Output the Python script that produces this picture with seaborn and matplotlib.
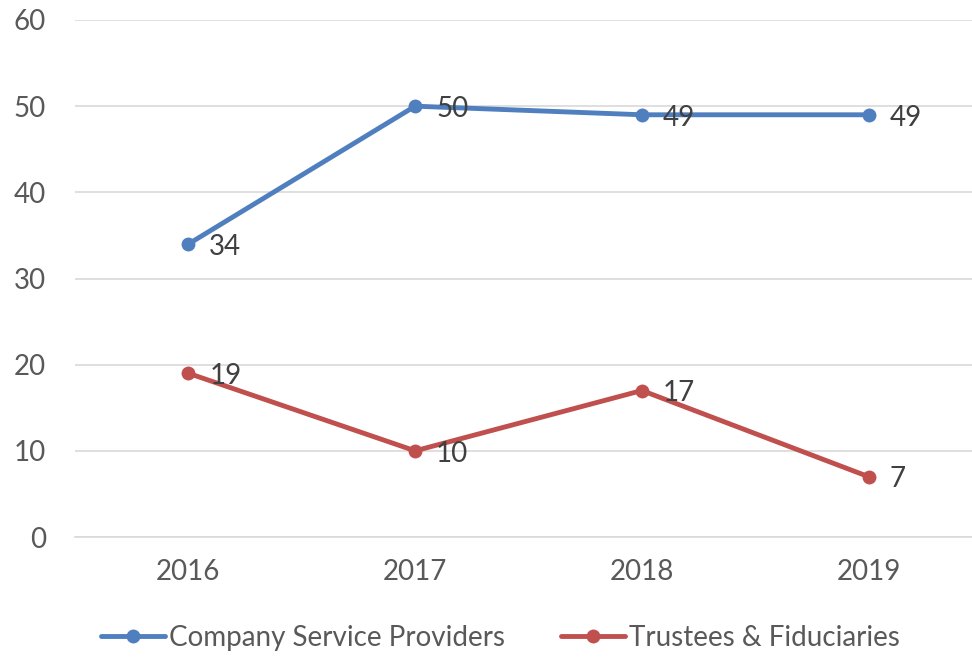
import matplotlib
matplotlib.use("Agg")
import matplotlib.pyplot as plt
import seaborn as sns
import pandas as pd

years = ["2016", "2017", "2018", "2019"]
csp = [34, 50, 49, 49]
tf = [19, 10, 17, 7]
series_names = ["Company Service Providers", "Trustees & Fiduciaries"]
colors = ["#4F7FBE", "#C0504D"]

sns.set_theme(style="white")
plt.rcParams['font.family'] = ['Lato', 'DejaVu Sans']

df = pd.DataFrame({
    "year": years * 2,
    "value": csp + tf,
    "series": [series_names[0]] * 4 + [series_names[1]] * 4,
})

fig = plt.figure(figsize=(9.72, 6.57), dpi=100)
ax = fig.add_axes([75 / 972, (657 - 537) / 657, (982 - 75) / 972, (537 - 20) / 657])

sns.lineplot(data=df, x="year", y="value", hue="series", palette=colors,
             marker="o", markersize=10, markeredgewidth=0, linewidth=3.5,
             ax=ax, sort=False, legend=False)

# data labels
for vals in [csp, tf]:
    for i, v in enumerate(vals):
        ax.annotate(str(v), (i, v), xytext=(15, -2), textcoords="offset points",
                    ha="left", va="center", fontsize=20, color="#404040")

ax.set_xlim(-0.5, 3.5)
ax.set_ylim(0, 60)
ax.set_yticks(range(0, 61, 10))
ax.yaxis.grid(True, color="#D9D9D9", linewidth=1.2)
ax.xaxis.grid(False)
for s in ["top", "right", "left"]:
    ax.spines[s].set_visible(False)
ax.spines["bottom"].set_color("#D9D9D9")
ax.spines["bottom"].set_linewidth(1.2)
ax.set_xlabel("")
ax.set_ylabel("")
ax.tick_params(axis="both", labelsize=20, colors="#595959", length=0)
ax.tick_params(axis="y", pad=21)
ax.tick_params(axis="x", pad=16)

handles = [plt.Line2D([], [], color=c, marker="o", markersize=10, linewidth=3.5,
                      markeredgewidth=0) for c in colors]
fig.legend(handles, series_names, loc="center", bbox_to_anchor=(0.515, 1 - 638 / 657),
           ncol=2, frameon=False, fontsize=20, labelcolor="#595959",
           handlelength=2.3, handletextpad=0.15, columnspacing=2.0)

fig.savefig("out.png", dpi=100)
